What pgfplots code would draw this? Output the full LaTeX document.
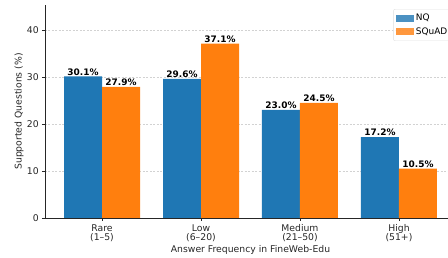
\documentclass[border=0pt]{standalone}
\usepackage{pgfplots}
\pgfplotsset{compat=1.18}
\usepackage{fontspec}
\setmainfont{DejaVu Sans}
\definecolor{tabblue}{HTML}{1F77B4}
\definecolor{taborange}{HTML}{FF7F0E}
\definecolor{txt}{HTML}{262626}
\begin{document}
\fontsize{9.3}{11}\selectfont
\begin{tikzpicture}[x=1bp,y=1bp]
\begin{axis}[
  at={(0,0)}, anchor=south west,
  scale only axis,
  width=411bp, height=213bp,
  xmin=-0.576, xmax=3.576,
  ymin=0, ymax=45.3,
  axis x line*=bottom, axis y line*=left,
  axis line style={txt, line width=0.8pt},
  xtick={0,1,2,3},
  xticklabels={{Rare\\(1--5)},{Low\\(6--20)},{Medium\\(21--50)},{High\\(51+)}},
  xticklabel style={align=center, text=txt, font=\fontsize{9.3}{9.5}\selectfont},
  ytick={0,10,20,30,40},
  yticklabel style={text=txt},
  tick style={txt, line width=0.6pt},
  tick align=outside,
  major tick length=3bp,
  /pgf/number format/assume math mode=true,
  ymajorgrids,
  grid style={dash pattern=on 2bp off 1.5bp, gray!35, line width=0.4pt},
  xlabel={Answer Frequency in FineWeb-Edu},
  ylabel={Supported Questions (\%)},
  xlabel style={text=txt, yshift=3bp},
  ylabel style={text=txt, yshift=-3bp},
  ybar, bar width=38bp,
  nodes near coords={\textbf{\pgfmathprintnumber[fixed,precision=1,fixed zerofill]{\pgfplotspointmeta}\%}},
  nodes near coords style={text=black, anchor=south, inner sep=1bp, font=\fontsize{9}{10}\selectfont},
  legend style={at={(1,1)}, anchor=north east, xshift=-4bp, yshift=-4bp,
    draw=gray!25, rounded corners=2bp, fill=white, fill opacity=0.8, text opacity=1,
    font=\fontsize{9}{10}\selectfont, row sep=1.5bp, inner xsep=2.5bp, inner ysep=3bp,
    legend cell align=left},
  legend image code/.code={\fill[#1, sharp corners] (0bp,-3.5bp) rectangle (18bp,3.5bp);},
]
\addplot[fill=tabblue, draw=none, bar shift=-19bp] coordinates {(0,30.1) (1,29.6) (2,23.0) (3,17.2)};
\addplot[fill=taborange, draw=none, bar shift=19bp] coordinates {(0,27.9) (1,37.1) (2,24.5) (3,10.5)};
\legend{NQ,SQuAD}
\end{axis}
\pgfresetboundingbox
\path (-45bp,-40bp) rectangle (403bp,218bp);
\end{tikzpicture}
\end{document}
